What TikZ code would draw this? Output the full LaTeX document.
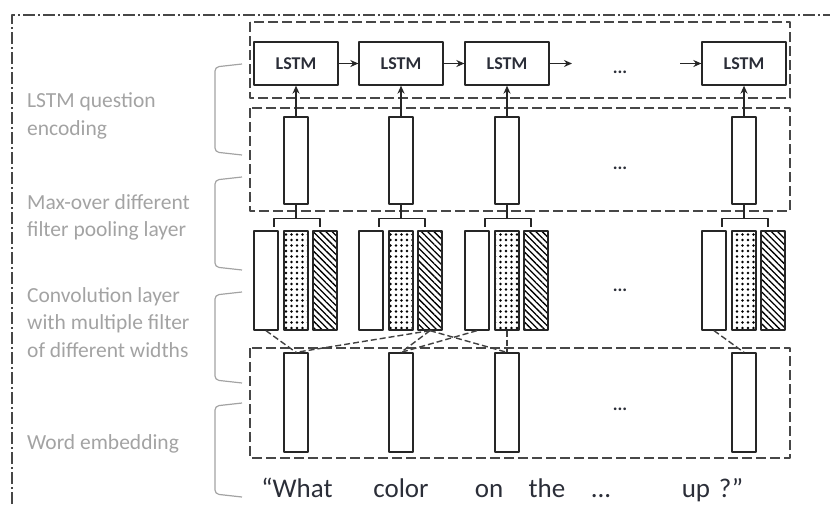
\documentclass[tikz,border=0pt]{standalone}
\usepackage{fontspec}
\setmainfont{Carlito}
\usetikzlibrary{patterns.meta,arrows.meta}

\begin{document}
\begin{tikzpicture}[x=1pt,y=-1pt,line join=round,>={Stealth[length=8pt,width=7pt]},font=\fontsize{21.5}{27.5}\selectfont]
    \definecolor{labelgray}{rgb}{0.64,0.64,0.64}
    \definecolor{boxgray}{rgb}{0.28,0.28,0.28}
    \definecolor{wordink}{rgb}{0.17,0.18,0.22}
    \tikzset{
        bar/.style={draw=black!85,line width=1.3pt,inner sep=0pt,minimum width=24pt},
        dotbar/.style={bar,pattern={Dots[distance=5.5pt,radius=1.3pt]}},
        hatchbar/.style={bar,pattern={Lines[angle=-45,distance=4.5pt,line width=1.3pt]}},
        lstm/.style={draw=black!85,line width=1.3pt,minimum width=84pt,minimum height=43pt,inner sep=0pt,
            font=\fontsize{18}{20}\selectfont\bfseries,text=wordink},
        feed/.style={->,line width=1.3pt,black!85},
        layerbox/.style={draw=boxgray,line width=1.8pt,dash pattern=on 10pt off 4pt},
        link/.style={draw=black!75,line width=1.4pt,dash pattern=on 6pt off 3pt},
        sidebrace/.style={draw=labelgray,line width=1.2pt,rounded corners=4pt},
        sidelabel/.style={anchor=west,align=left,text=labelgray,inner sep=0pt},
        word/.style={anchor=base,font=\fontsize{27}{30}\selectfont,text=wordink,inner sep=0pt},
        more/.style={font=\fontsize{18}{20}\selectfont\bfseries,text=wordink,inner sep=0pt}
    }
    \useasboundingbox (0,0) rectangle (830,504);
    %===============================
    % outer frame
    \draw[boxgray,line width=1.2pt,dash pattern=on 12pt off 3pt on 2pt off 3pt] (12,504) -- (12,15) -- (830,15);
    % layer boxes
    \draw[layerbox] (250,22) rectangle (790,98);
    \draw[layerbox] (250,108) rectangle (790,211);
    \draw[layerbox] (250,348) rectangle (790,458);
    %===============================
    \foreach \c [count=\i] in {296,401,507,744}{
        \node[lstm] (lstm\i) at (\c,63.5) {LSTM};
        \node[bar,minimum height=87pt] (pool\i) at (\c,160.5) {};
        \node[bar,minimum height=99pt] (convA\i) at (\c-30,280.5) {};
        \node[dotbar,minimum height=99pt] (convB\i) at (\c,280.5) {};
        \node[hatchbar,minimum height=99pt] (convC\i) at (\c+29,280.5) {};
        \node[bar,minimum height=99pt] (emb\i) at (\c,402.5) {};
        \draw[feed] (pool\i) -- (lstm\i);
        \draw[line width=1.3pt,black!85] (pool\i.south) -- ++(0,14)
            ++(-22,8) -- ++(0,-8) -- ++(46,0) -- ++(0,8);
    }
    \coordinate (out3) at (572,63.5);
    \coordinate (in4) at (680,63.5);
    \draw[feed] (lstm1) -- (lstm2);
    \draw[feed] (lstm2) -- (lstm3);
    \draw[feed] (lstm3) -- (out3);
    \draw[feed] (in4) -- (lstm4);
    % filters to words
    \draw[link] (convA1.south) -- (emb1.north);
    \draw[link] (convC2.south) -- (emb1.north);
    \draw[link] (convC2.south) -- (emb2.north);
    \draw[link] (convA3.south) -- (emb2.north);
    \draw[link] (convC2.south) -- (emb3.north);
    \draw[link] (convB3.south) -- (emb3.north);
    \draw[link] (convA4.south) -- (emb4.north);
    % dots
    \foreach \y [count=\j] in {72,168,290,409}
        \node[more] (more\j) at (620,\y) {...};
    %===============================
    % side labels
    \draw[sidebrace] (242,64) -- (215,67) -- (215,152) -- (242,155);
    \draw[sidebrace] (242,177) -- (215,180) -- (215,267) -- (242,270);
    \draw[sidebrace] (242,292) -- (215,295) -- (215,380) -- (242,383);
    \draw[sidebrace] (242,403) -- (215,406) -- (215,494) -- (242,497);
    \node[sidelabel] (lab1) at (27,116) {LSTM question\\encoding};
    \node[sidelabel] (lab2) at (27,217.5) {Max-over different\\filter pooling layer};
    \node[sidelabel] (lab3) at (27,322.5) {Convolution layer\\with multiple filter\\of different widths};
    \node[sidelabel] (lab4) at (27,444) {Word embedding};
    %===============================
    % question words
    \node[word] (w1) at (297,497) {“What};
    \node[word] (w2) at (401,497) {color};
    \node[word] (w3) at (489,497) {on};
    \node[word] (w4) at (547,497) {the};
    \node[word] (w5) at (601,497) {...};
    \node[word] (w6) at (696,497) {up};
    \node[word] (w7) at (731,497) {?”};
\end{tikzpicture}
\end{document}
